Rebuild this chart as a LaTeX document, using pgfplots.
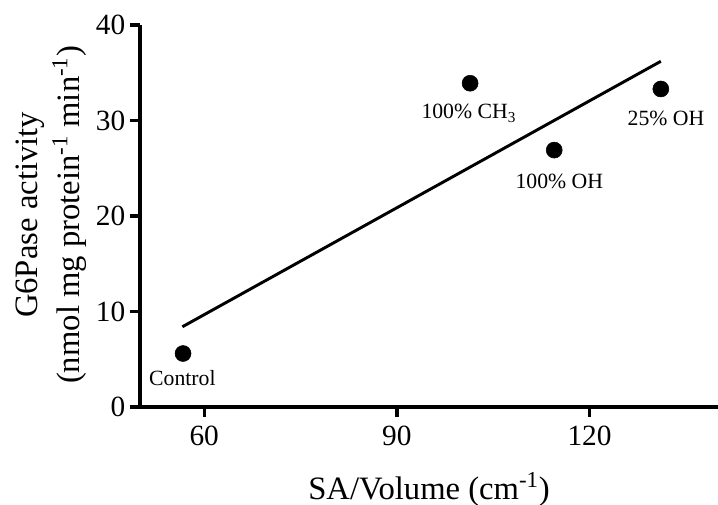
\documentclass[border=0pt]{standalone}
\usepackage{fontspec}
\setmainfont{Liberation Serif}
\usepackage{pgfplots}
\pgfplotsset{compat=1.18}

\begin{document}
\begin{tikzpicture}
% page = 718x505 px at 0.75pt per px, axis corner at (0,0)
\useasboundingbox (-105pt,-73.5pt) rectangle (433.5pt,305.25pt);
\begin{axis}[
  at={(0,0)}, anchor=south west,
  scale only axis, width=433.5pt, height=286.5pt,
  xmin=50, xmax=140, ymin=0, ymax=40,
  axis x line*=bottom, axis y line*=left,
  axis line style={line width=3pt, -},
  xtick={60,90,120}, ytick={0,10,20,30,40},
  tick align=outside, major tick length=7.5pt,
  tick style={line width=2.5pt, black},
  /pgf/number format/assume math mode=true,
  tick label style={font=\fontsize{22}{26}\selectfont},
  xticklabel style={yshift=-3pt},
  xlabel={SA/Volume (cm\textsuperscript{-1})},
  xlabel style={font=\fontsize{24.5}{30}\selectfont, at={(axis description cs:0.5,0)}, anchor=center, yshift=-62pt},
  clip=false,
]
\addplot[only marks, mark=*, mark size=6pt, black] coordinates {
  (56.7,5.6) (101.4,33.9) (114.5,26.9) (131.1,33.3)};
\addplot[black, line width=2.2pt] coordinates {(56.6,8.4) (131.1,36.2)};
\begin{scope}[every node/.style={font=\fontsize{16.3}{19}\selectfont}]
\node at (axis cs:56.6,3.0) {Control};
\node at (axis cs:101.2,30.75) {100\% CH\textsubscript{3}};
\node at (axis cs:115.3,23.6) {100\% OH};
\node at (axis cs:131.9,30.2) {25\% OH};
\end{scope}
\end{axis}
\node[rotate=90, align=center, font=\fontsize{24.5}{31.5}\selectfont] at (-66.75pt,144pt)
  {G6Pase activity\\(nmol mg protein\textsuperscript{-1} min\textsuperscript{-1})};
\end{tikzpicture}
\end{document}
